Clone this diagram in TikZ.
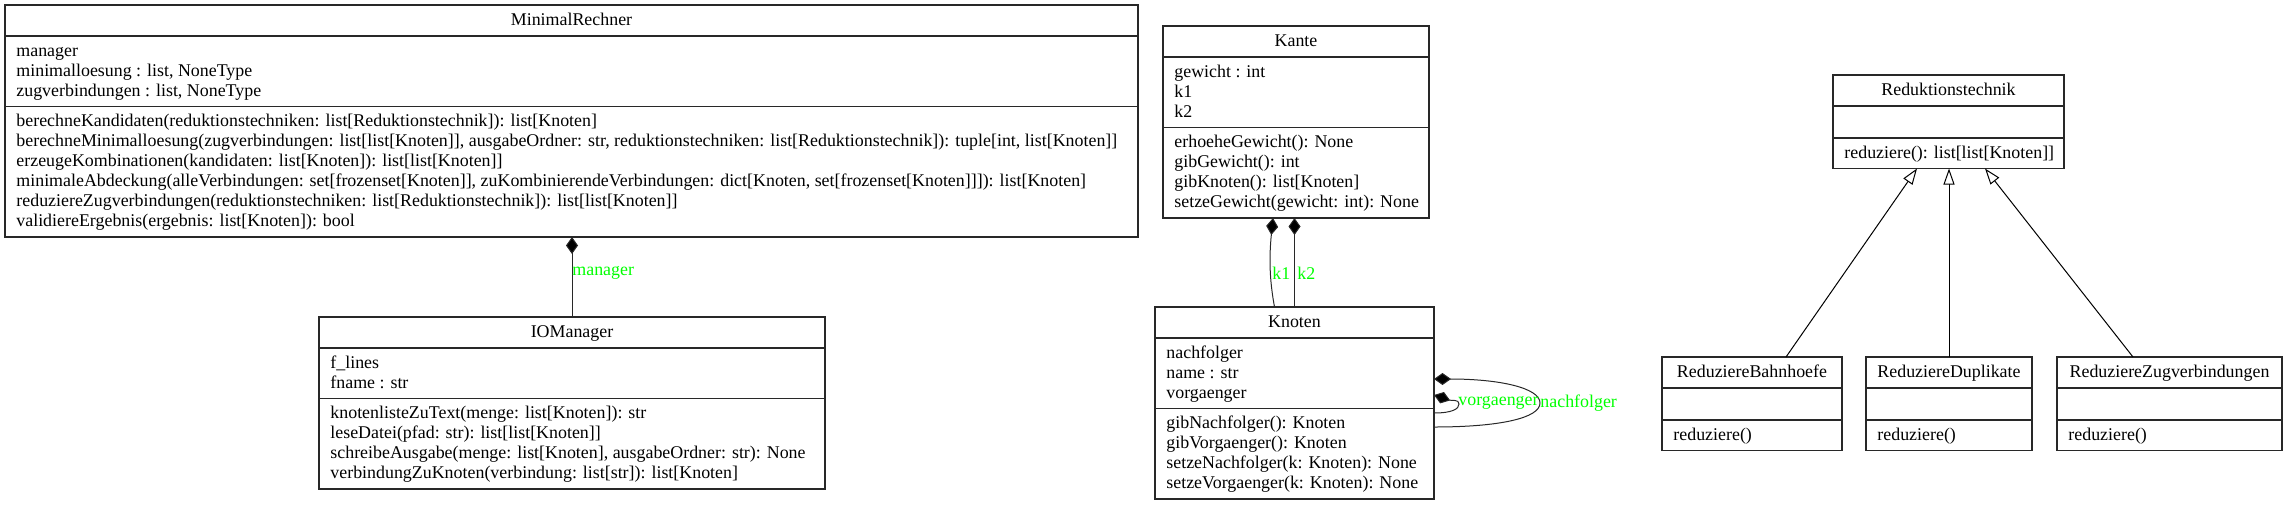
\documentclass[tikz,border=0pt]{standalone}
\usepackage{fontspec}
\setmainfont{Liberation Serif}
\usetikzlibrary{arrows.meta,calc}
\definecolor{umlgreen}{RGB}{0,255,0}
\definecolor{umlline}{RGB}{40,40,40}
\newcommand\umlfont{\fontsize{8.95pt}{10pt}\selectfont}
\tikzset{
  classbox/.style={draw=umlline, line width=0.55pt, inner sep=0pt, outer sep=0pt, rectangle},
  sepline/.style={draw=umlline, line width=0.55pt},
  umltext/.style={inner sep=0pt, font=\umlfont},
  lbl/.style={inner sep=0pt, font=\umlfont, text=umlgreen},
  comp/.style={draw=umlline, line width=0.5pt, -{Diamond[length=8.5pt,width=6pt,fill=black]}},
  inh/.style={draw=black, line width=0.5pt, -{Triangle[length=8pt,width=5.5pt,fill=white]}},
}
% #1 id, #2 x, #3 y, #4 width, #5 title, #6 n attrs, #7 attrs, #8 n methods, #9 methods
\newcommand\umlbox[9]{%
  \pgfmathsetmacro\uha{ifthenelse(#6==0,32,20*#6+10.5)}%
  \pgfmathsetmacro\uhm{ifthenelse(#8==0,32,20*#8+10.5)}%
  \pgfmathsetmacro\uht{31+\uha+\uhm}%
  \pgfmathsetmacro\usb{31+\uha}%
  \node[classbox, minimum width=#4*0.5pt, minimum height=\uht*0.5pt, anchor=north west] (#1) at (#2,#3) {};
  \node[umltext, anchor=base] (#1-title) at ($(#1.north)+(0,20)$) {#5};
  \draw[sepline] ($(#1.north west)+(0,31)$) -- ($(#1.north east)+(0,31)$);
  \draw[sepline] ($(#1.north west)+(0,\usb)$) -- ($(#1.north east)+(0,\usb)$);
  \ifnum#6>0 \foreach[count=\i] \umlline in {#7}{\node[umltext, anchor=base west] (#1-a\i) at ($(#1.north west)+(11,31+20*\i)$) {\umlline};}\fi
  \ifnum#8>0 \foreach[count=\i] \umlline in {#9}{\node[umltext, anchor=base west] (#1-m\i) at ($(#1.north west)+(11,\usb+20*\i)$) {\umlline};}\fi
}
\begin{document}
\begin{tikzpicture}[x=0.5pt,y=-0.5pt]
\useasboundingbox (0,0) rectangle (2287,505);

\umlbox{mr}{5}{5}{1133}{MinimalRechner}{3}{{manager}, {minimalloesung : list, NoneType}, {zugverbindungen : list, NoneType}}{6}{%
{berechneKandidaten(reduktionstechniken: list[Reduktionstechnik]): list[Knoten]},
{berechneMinimalloesung(zugverbindungen: list[list[Knoten]], ausgabeOrdner: str, reduktionstechniken: list[Reduktionstechnik]): tuple[int, list[Knoten]]},
{erzeugeKombinationen(kandidaten: list[Knoten]): list[list[Knoten]]},
{minimaleAbdeckung(alleVerbindungen: set[frozenset[Knoten]], zuKombinierendeVerbindungen: dict[Knoten, set[frozenset[Knoten]]]): list[Knoten]},
{reduziereZugverbindungen(reduktionstechniken: list[Reduktionstechnik]): list[list[Knoten]]},
{validiereErgebnis(ergebnis: list[Knoten]): bool}}

\umlbox{io}{319}{317}{506}{IOManager}{2}{{f\_lines}, {fname : str}}{4}{%
{knotenlisteZuText(menge: list[Knoten]): str},
{leseDatei(pfad: str): list[list[Knoten]]},
{schreibeAusgabe(menge: list[Knoten], ausgabeOrdner: str): None},
{verbindungZuKnoten(verbindung: list[str]): list[Knoten]}}

\umlbox{kante}{1163}{26}{266}{Kante}{3}{{gewicht : int}, {k1}, {k2}}{4}{%
{erhoeheGewicht(): None},
{gibGewicht(): int},
{gibKnoten(): list[Knoten]},
{setzeGewicht(gewicht: int): None}}

\umlbox{knoten}{1155}{307}{279}{Knoten}{3}{{nachfolger}, {name : str}, {vorgaenger}}{4}{%
{gibNachfolger(): Knoten},
{gibVorgaenger(): Knoten},
{setzeNachfolger(k: Knoten): None},
{setzeVorgaenger(k: Knoten): None}}

\umlbox{red}{1833}{75}{231}{Reduktionstechnik}{0}{}{1}{{reduziere(): list[list[Knoten]]}}
\umlbox{rb}{1662}{357}{180}{ReduziereBahnhoefe}{0}{}{1}{{reduziere()}}
\umlbox{rd}{1866}{357}{166}{ReduziereDuplikate}{0}{}{1}{{reduziere()}}
\umlbox{rz}{2057}{357}{225}{ReduziereZugverbindungen}{0}{}{1}{{reduziere()}}

% composition mr - io
\draw[comp] (io.north) -- (io.north |- mr.south);
\node[lbl, anchor=west] (lmanager) at (572,273) {manager};

% composition kante - knoten
\draw[comp] ($(knoten.north)+(-20,0)$) .. controls ($(knoten.north)+(-25,-27)$) and ($(kante.south)+(-27,40)$) .. ($(kante.south)+(-23,0)$);
\draw[comp] (knoten.north) -- (knoten.north |- kante.south);
\node[lbl, anchor=west] (lk1) at (1272,273) {k1};
\node[lbl, anchor=west] (lk2) at (1297,273) {k2};

% self loops on knoten
\draw[comp] ($(knoten.north east)+(0,120)$) .. controls ($(knoten.north east)+(66,120)$) and ($(knoten.north east)+(106,111)$) .. ($(knoten.north east)+(106,96)$) .. controls ($(knoten.north east)+(106,81)$) and ($(knoten.north east)+(66,72)$) .. ($(knoten.north east)+(0,72)$);
\draw[comp] ($(knoten.north east)+(0,106)$) .. controls ($(knoten.north east)+(18,106)$) and ($(knoten.north east)+(25,102)$) .. ($(knoten.north east)+(25,97)$) .. controls ($(knoten.north east)+(25,92)$) and ($(knoten.north east)+(18,94)$) .. ($(knoten.north east)+(0,88)$);
\node[lbl, anchor=west] (lvor) at (1458,403) {vorgaenger};
\node[lbl, anchor=west] (lnach) at (1540,403) {nachfolger};

% inheritance
\draw[inh] ($(rb.north)+(34,0)$) -- ($(red.south)+(-31.5,0)$);
\draw[inh] (rd.north) -- (rd.north |- red.south);
\draw[inh] ($(rz.north)+(-36.5,0)$) -- ($(red.south)+(36.5,0)$);
\end{tikzpicture}
\end{document}
